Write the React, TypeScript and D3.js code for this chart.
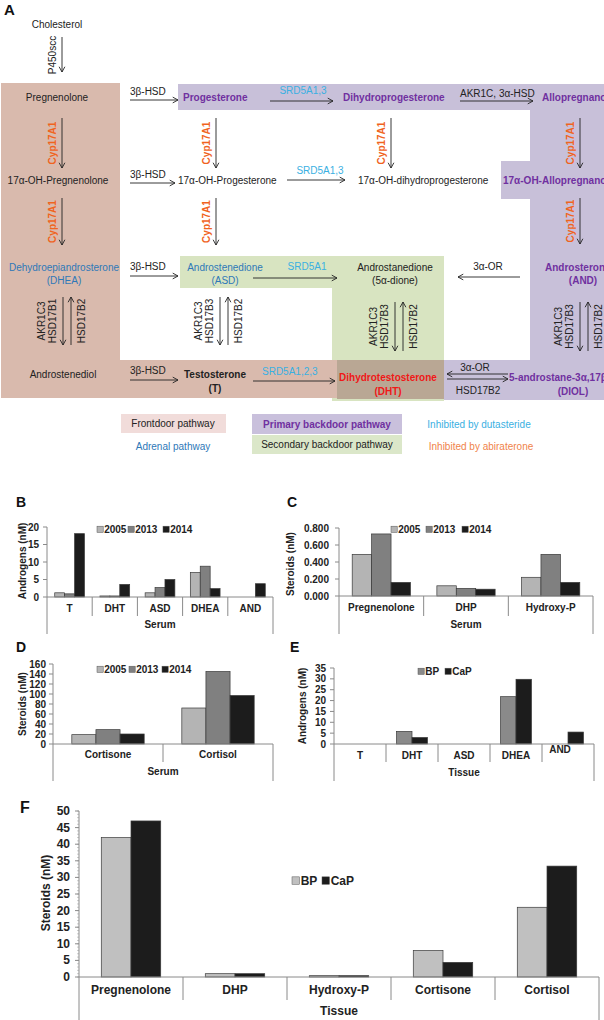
import React from "react"
import * as d3 from "d3"

const FONT = "'Liberation Sans', Arial, sans-serif"

// ---- panel B: serum androgens ----
const bCategories = ["T", "DHT", "ASD", "DHEA", "AND"]
const b2005 = [1.2, 0.3, 1.2, 7.0, 0]
const b2013 = [0.9, 0.3, 2.7, 8.8, 0]
const b2014 = [18.1, 3.6, 5.0, 2.4, 3.8]
const bTicks = [0, 5, 10, 15, 20]

// ---- panel C: serum steroids ----
const cCategories = ["Pregnenolone", "DHP", "Hydroxy-P"]
const c2005 = [0.49, 0.12, 0.22]
const c2013 = [0.73, 0.09, 0.49]
const c2014 = [0.16, 0.08, 0.16]
const cTicks = [0, 0.2, 0.4, 0.6, 0.8]

// ---- panel D: serum corticoids ----
const dCategories = ["Cortisone", "Cortisol"]
const d2005 = [18.7, 72]
const d2013 = [28.7, 145]
const d2014 = [20, 97]
const dTicks = [0, 20, 40, 60, 80, 100, 120, 140, 160]

// ---- panel E: tissue androgens ----
const eCategories = ["T", "DHT", "ASD", "DHEA", "AND"]
const eBP = [0, 5.8, 0, 21.8, 0]
const eCaP = [0, 3.0, 0, 29.8, 5.5]
const eTicks = [0, 5, 10, 15, 20, 25, 30, 35]

// ---- panel F: tissue steroids ----
const fCategories = ["Pregnenolone", "DHP", "Hydroxy-P", "Cortisone", "Cortisol"]
const fBP = [42, 1.0, 0.4, 8.0, 21]
const fCaP = [47, 1.0, 0.4, 4.4, 33.4]
const fTicks = [0, 5, 10, 15, 20, 25, 30, 35, 40, 45, 50]

const years = ["2005", "2013", "2014"]
const tissues = ["BP", "CaP"]

type Series = { name: string; values: number[]; fill: string }

type PanelProps = {
  letter: string
  letterX: number
  letterY: number
  letterSize: number
  left: number
  right: number
  top: number
  base: number
  max: number
  ticks: number[]
  fmt: (v: number) => string
  tickGap: number
  minor?: number
  categories: string[]
  series: Series[]
  outer: number
  catY: number
  sepBottom: number
  group: string
  groupY: number
  frameBottom: number
  yLabel: string
  yLabelX: number
  yLabelY: number
  legendX: number[]
  legendY: number
  fontSize: number
  catShift?: { [k: string]: [number, number] }
}

function Bars(p: PanelProps) {
  const x = d3.scaleBand<string>().domain(p.categories).range([p.left, p.right])
  const inner = d3
    .scaleBand<string>()
    .domain(p.series.map((s) => s.name))
    .range([0, x.bandwidth()])
    .paddingOuter(p.outer)
  const y = d3.scaleLinear().domain([0, p.max]).range([p.base, p.top])
  const minors = p.minor ? d3.range(0, p.max + 1e-9, p.minor) : []
  const axisColor = "#8a8a8a"
  const fs = p.fontSize

  return (
    <g fontFamily={FONT} fontWeight="bold" fontSize={fs} fill="#222">
      <text x={p.letterX} y={p.letterY} fontSize={p.letterSize} fill="#111">
        {p.letter}
      </text>
      <text
        transform={`translate(${p.yLabelX},${p.yLabelY}) rotate(-90)`}
        textAnchor="middle"
        dominantBaseline="central"
      >
        {p.yLabel}
      </text>

      {minors.map((m) => (
        <line key={"m" + m} x1={p.left - 2} x2={p.left} y1={y(m)} y2={y(m)} stroke="#aaa" strokeWidth={0.6} />
      ))}
      {p.ticks.map((t) => (
        <g key={t}>
          <line x1={p.left - 4} x2={p.left} y1={y(t)} y2={y(t)} stroke={axisColor} />
          <text x={p.left - p.tickGap} y={y(t)} textAnchor="end" dominantBaseline="central">
            {p.fmt(t)}
          </text>
        </g>
      ))}

      {p.series.map((s) =>
        p.categories.map((c, i) => {
          const v = s.values[i]
          if (!v) return null
          return (
            <rect
              key={s.name + c}
              x={(x(c) as number) + (inner(s.name) as number)}
              y={y(v)}
              width={inner.bandwidth()}
              height={p.base - y(v)}
              fill={s.fill}
              stroke="#3a3a3a"
              strokeWidth={0.7}
            />
          )
        })
      )}

      <line x1={p.left} x2={p.left} y1={p.top} y2={p.frameBottom} stroke={axisColor} />
      <line x1={p.left} x2={p.right} y1={p.base} y2={p.base} stroke={axisColor} />
      <line x1={p.right} x2={p.right} y1={p.base} y2={p.frameBottom} stroke={axisColor} />
      {p.categories.slice(1).map((c) => (
        <line key={"s" + c} x1={x(c)} x2={x(c)} y1={p.base} y2={p.sepBottom} stroke={axisColor} />
      ))}

      {p.categories.map((c) => {
        const sh = (p.catShift && p.catShift[c]) || [0, 0]
        return (
          <text key={"c" + c} x={(x(c) as number) + x.bandwidth() / 2 + sh[0]} y={p.catY + sh[1]} textAnchor="middle">
            {c}
          </text>
        )
      })}
      <text x={(p.left + p.right) / 2} y={p.groupY} textAnchor="middle">
        {p.group}
      </text>

      {p.series.map((s, i) => (
        <g key={"l" + s.name}>
          <rect
            x={p.legendX[i]}
            y={p.legendY - fs * 0.68}
            width={fs * 0.62}
            height={fs * 0.62}
            fill={s.fill}
            stroke="#555"
            strokeWidth={0.5}
          />
          <text x={p.legendX[i] + fs * 0.72} y={p.legendY}>
            {s.name}
          </text>
        </g>
      ))}
    </g>
  )
}

// ---------- pathway diagram helpers ----------
function Arrow({ x1, y1, x2, y2 }: { x1: number; y1: number; x2: number; y2: number }) {
  const a = Math.atan2(y2 - y1, x2 - x1)
  const L = 6
  const w = 0.5
  const p1 = [x2 - L * Math.cos(a - w), y2 - L * Math.sin(a - w)]
  const p2 = [x2 - L * Math.cos(a + w), y2 - L * Math.sin(a + w)]
  return (
    <g stroke="#222" strokeWidth={0.9} fill="none">
      <line x1={x1} y1={y1} x2={x2} y2={y2} />
      <polyline points={`${p1[0]},${p1[1]} ${x2},${y2} ${p2[0]},${p2[1]}`} />
    </g>
  )
}

function VText({ x, y, children, fill = "#222", bold = false }: any) {
  return (
    <text
      transform={`translate(${x},${y}) rotate(-90)`}
      textAnchor="middle"
      dominantBaseline="central"
      fill={fill}
      fontWeight={bold ? "bold" : "normal"}
    >
      {children}
    </text>
  )
}

const PURPLE = "#7030a0"
const ORANGE = "#f0641e"
const SKY = "#3ab0e2"
const BLUE = "#2e78b8"

function Cyp({ x, y1, y2 }: { x: number; y1: number; y2: number }) {
  return (
    <g>
      <Arrow x1={x} y1={y1} x2={x} y2={y2} />
      <VText x={x - 10} y={(y1 + y2) / 2} fill={ORANGE} bold>
        Cyp17A1
      </VText>
    </g>
  )
}

function Hsd({ x, y1, y2, a, b, c }: { x: number; y1: number; y2: number; a: string; b: string; c: string }) {
  const m = (y1 + y2) / 2
  return (
    <g>
      <Arrow x1={x} y1={y1} x2={x} y2={y2} />
      <Arrow x1={x + 8} y1={y2} x2={x + 8} y2={y1} />
      <VText x={x - 22} y={m}>{a}</VText>
      <VText x={x - 11} y={m}>{b}</VText>
      <VText x={x + 18} y={m}>{c}</VText>
    </g>
  )
}

function Diagram() {
  return (
    <g fontFamily={FONT} fontSize={10} fill="#222">
      <path d="M180,256 H444 V401 H332 V288 H180 Z" fill="#d8e4c1" />
      <path d="M1,83 H120 V360 H337 V398 H1 Z" fill="#d9baad" />
      <path d="M178,84 H604 V400 H444 V360 H530 V199 H501 V161 H530 V110 H178 Z" fill="#c8c0d9" />
      <rect x={337} y={360} width={107} height={39} fill="#b9a794" />

      <text x={4} y={15} fontSize={15} fontWeight="bold" fill="#111">A</text>

      <text x={57} y={28} textAnchor="middle">Cholesterol</text>
      <Arrow x1={62} y1={37} x2={62} y2={72} />
      <VText x={52} y={55}>P450scc</VText>

      {/* row 1 */}
      <text x={57} y={101} textAnchor="middle">Pregnenolone</text>
      <text x={130} y={95}>3β-HSD</text>
      <Arrow x1={130} y1={100} x2={178} y2={100} />
      <text x={183} y={101} fill={PURPLE} fontWeight="bold">Progesterone</text>
      <text x={303} y={94} textAnchor="middle" fill={SKY}>SRD5A1,3</text>
      <Arrow x1={270} y1={101} x2={333} y2={101} />
      <text x={343} y={101} fill={PURPLE} fontWeight="bold">Dihydroprogesterone</text>
      <text x={460} y={97}>AKR1C, 3α-HSD</text>
      <Arrow x1={460} y1={101} x2={533} y2={101} />
      <text x={542} y={101} fill={PURPLE} fontWeight="bold">Allopregnanolone</text>

      <Cyp x={62} y1={118} y2={168} />
      <Cyp x={216} y1={118} y2={168} />
      <Cyp x={391} y1={118} y2={168} />
      <Cyp x={580} y1={118} y2={168} />

      {/* row 2 */}
      <text x={58} y={184} textAnchor="middle">17α-OH-Pregnenolone</text>
      <text x={130} y={178}>3β-HSD</text>
      <Arrow x1={130} y1={183} x2={175} y2={183} />
      <text x={178} y={184}>17α-OH-Progesterone</text>
      <text x={320} y={174} textAnchor="middle" fill={SKY}>SRD5A1,3</text>
      <Arrow x1={287} y1={180} x2={345} y2={180} />
      <text x={358} y={184}>17α-OH-dihydroprogesterone</text>
      <text x={503} y={184} fill={PURPLE} fontWeight="bold">17α-OH-Allopregnanolone</text>

      <Cyp x={62} y1={198} y2={245} />
      <Cyp x={216} y1={198} y2={245} />
      <Cyp x={580} y1={198} y2={244} />

      {/* row 3 */}
      <text x={64} y={271} textAnchor="middle" fill={BLUE}>Dehydroepiandrosterone</text>
      <text x={64} y={284} textAnchor="middle" fill={BLUE}>(DHEA)</text>
      <text x={130} y={270}>3β-HSD</text>
      <Arrow x1={130} y1={276} x2={178} y2={276} />
      <text x={225} y={271} textAnchor="middle" fill={BLUE}>Androstenedione</text>
      <text x={225} y={284} textAnchor="middle" fill={BLUE}>(ASD)</text>
      <text x={307} y={270} textAnchor="middle" fill={SKY}>SRD5A1</text>
      <Arrow x1={253} y1={278} x2={337} y2={278} />
      <text x={395} y={271} textAnchor="middle">Androstanedione</text>
      <text x={395} y={284} textAnchor="middle">(5α-dione)</text>
      <text x={488} y={270} textAnchor="middle">3α-OR</text>
      <Arrow x1={520} y1={277} x2={458} y2={277} />
      <text x={545} y={271} fill={PURPLE} fontWeight="bold">Androsterone</text>
      <text x={583} y={284} textAnchor="middle" fill={PURPLE} fontWeight="bold">(AND)</text>

      <Hsd x={63} y1={297} y2={345} a="AKR1C3" b="HSD17B1" c="HSD17B2" />
      <Hsd x={220} y1={297} y2={345} a="AKR1C3" b="HSD17B3" c="HSD17B2" />
      <Hsd x={395} y1={302} y2={351} a="AKR1C3" b="HSD17B3" c="HSD17B2" />
      <Hsd x={580} y1={302} y2={351} a="AKR1C3" b="HSD17B3" c="HSD17B2" />

      {/* row 4 */}
      <text x={63} y={378} textAnchor="middle">Androstenediol</text>
      <text x={130} y={374}>3β-HSD</text>
      <Arrow x1={130} y1={380} x2={178} y2={380} />
      <text x={215} y={378} textAnchor="middle" fontWeight="bold">Testosterone</text>
      <text x={215} y={392} textAnchor="middle" fontWeight="bold">(T)</text>
      <text x={262} y={375} fill={SKY}>SRD5A1,2,3</text>
      <Arrow x1={253} y1={381} x2={335} y2={381} />
      <text x={388} y={381} textAnchor="middle" fill="#f01818" fontWeight="bold">Dihydrotestosterone</text>
      <text x={388} y={395} textAnchor="middle" fill="#f01818" fontWeight="bold">(DHT)</text>
      <text x={475} y={371} textAnchor="middle">3α-OR</text>
      <Arrow x1={508} y1={374} x2={447} y2={374} />
      <Arrow x1={447} y1={379} x2={508} y2={379} />
      <text x={478} y={394} textAnchor="middle">HSD17B2</text>
      <text x={509} y={381} fill={PURPLE} fontWeight="bold">5-androstane-3α,17β-diol</text>
      <text x={573} y={395} textAnchor="middle" fill={PURPLE} fontWeight="bold">(DIOL)</text>

      {/* legend */}
      <rect x={121} y={414} width={105} height={19} fill="#f1dcda" />
      <text x={173} y={427} textAnchor="middle">Frontdoor pathway</text>
      <text x={173} y={450} textAnchor="middle" fill={BLUE}>Adrenal pathway</text>
      <rect x={252} y={414} width={150} height={20} fill="#c9c0dc" />
      <text x={327} y={428} textAnchor="middle" fill={PURPLE} fontWeight="bold">Primary backdoor pathway</text>
      <rect x={252} y={435} width={150} height={19} fill="#dbe7c9" />
      <text x={327} y={448} textAnchor="middle">Secondary backdoor pathway</text>
      <text x={479} y={428} textAnchor="middle" fill={SKY}>Inhibited by dutasteride</text>
      <text x={481} y={450} textAnchor="middle" fill="#f0834a">Inhibited by abiraterone</text>
    </g>
  )
}

const LIGHT = "#b4b4b4"
const MID = "#808080"
const DARK = "#1c1c1c"

const int = (v: number) => d3.format("d")(v)

export default function App() {
  return (
    <svg
      width={604}
      height={1020}
      style={{ position: "absolute", left: 0, top: 0, background: "#fff" }}
    >
      <rect width={604} height={1020} fill="#fff" />
      <Diagram />

      <Bars
        letter="B" letterX={16} letterY={507} letterSize={14}
        left={47} right={273} top={527} base={597} max={20} ticks={bTicks} fmt={int} tickGap={8}
        categories={bCategories}
        series={[
          { name: years[0], values: b2005, fill: LIGHT },
          { name: years[1], values: b2013, fill: MID },
          { name: years[2], values: b2014, fill: DARK },
        ]}
        outer={0.78}
        catY={612} sepBottom={616} group="Serum" groupY={628} frameBottom={634}
        yLabel="Androgens (nM)" yLabelX={22} yLabelY={561}
        legendX={[97, 128, 163]} legendY={533} fontSize={10}
      />
      <Bars
        letter="C" letterX={287} letterY={507} letterSize={14}
        left={339} right={593} top={528} base={596} max={0.8} ticks={cTicks} fmt={d3.format(".3f")} tickGap={10}
        categories={cCategories}
        series={[
          { name: years[0], values: c2005, fill: LIGHT },
          { name: years[1], values: c2013, fill: MID },
          { name: years[2], values: c2014, fill: DARK },
        ]}
        outer={0.68}
        catY={611} sepBottom={616} group="Serum" groupY={628} frameBottom={634}
        yLabel="Steroids (nM)" yLabelX={290} yLabelY={564}
        legendX={[391, 426, 462]} legendY={533} fontSize={10}
      />
      <Bars
        letter="D" letterX={16} letterY={652} letterSize={14}
        left={53} right={273} top={664} base={744} max={160} ticks={dTicks} fmt={int} tickGap={7}
        categories={dCategories}
        series={[
          { name: years[0], values: d2005, fill: LIGHT },
          { name: years[1], values: d2013, fill: MID },
          { name: years[2], values: d2014, fill: DARK },
        ]}
        outer={0.78}
        catY={758} sepBottom={762} group="Serum" groupY={775} frameBottom={781}
        yLabel="Steroids (nM)" yLabelX={22} yLabelY={704}
        legendX={[97, 129, 162]} legendY={673} fontSize={10}
      />
      <Bars
        letter="E" letterX={290} letterY={652} letterSize={14}
        left={334} right={594} top={668} base={744} max={35} ticks={eTicks} fmt={int} tickGap={8}
        categories={eCategories}
        series={[
          { name: tissues[0], values: eBP, fill: "#8a8a8a" },
          { name: tissues[1], values: eCaP, fill: DARK },
        ]}
        outer={0.68}
        catY={759} sepBottom={762} group="Tissue" groupY={776} frameBottom={781}
        yLabel="Androgens (nM)" yLabelX={302} yLabelY={706}
        legendX={[418, 445]} legendY={675} fontSize={10}
        catShift={{ AND: [-8, -6] }}
      />
      <Bars
        letter="F" letterX={20} letterY={813} letterSize={16}
        left={79} right={599} top={811} base={977} max={50} ticks={fTicks} fmt={int} tickGap={9} minor={1}
        categories={fCategories}
        series={[
          { name: tissues[0], values: fBP, fill: "#c0c0c0" },
          { name: tissues[1], values: fCaP, fill: DARK },
        ]}
        outer={0.75}
        catY={994} sepBottom={1000} group="Tissue" groupY={1015} frameBottom={1020}
        yLabel="Steroids (nM)" yLabelX={46} yLabelY={893}
        legendX={[292, 322]} legendY={885} fontSize={12}
      />
    </svg>
  )
}
